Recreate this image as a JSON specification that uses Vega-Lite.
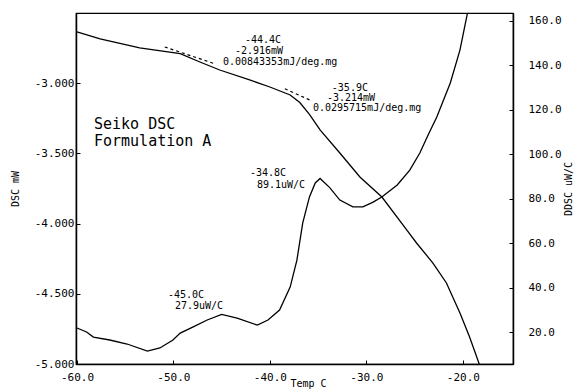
{
  "$schema": "https://vega.github.io/schema/vega-lite/v6.json",
  "width": 437,
  "height": 351,
  "autosize": {"type": "none"},
  "padding": {"left": 76, "top": 13, "right": 63, "bottom": 25},
  "background": "white",
  "config": {
    "locale": {"number": {"decimal": ".", "thousands": ",", "grouping": [3], "currency": ["$", ""], "minus": "-"}},
    "view": {"stroke": "black", "strokeWidth": 1.2},
    "font": "DejaVu Sans Mono",
    "axis": {
      "labelFont": "DejaVu Sans Mono",
      "labelFontSize": 11,
      "labelColor": "black",
      "titleFont": "DejaVu Sans Mono",
      "titleFontSize": 10,
      "titleFontWeight": "normal",
      "titleColor": "black",
      "domainColor": "black",
      "domainWidth": 1.5,
      "tickColor": "black",
      "tickSize": -4,
      "grid": false,
      "labelFlush": false,
      "labelOverlap": false
    }
  },
  "datasets": {
    "dsc": [
      {"t": -60.0, "mw": -2.635},
      {"t": -57.6, "mw": -2.685},
      {"t": -53.5, "mw": -2.749},
      {"t": -49.3, "mw": -2.790},
      {"t": -47.25, "mw": -2.849},
      {"t": -45.2, "mw": -2.906},
      {"t": -42.1, "mw": -2.977},
      {"t": -40.0, "mw": -3.027},
      {"t": -37.9, "mw": -3.084},
      {"t": -36.9, "mw": -3.138},
      {"t": -35.9, "mw": -3.222},
      {"t": -34.8, "mw": -3.333},
      {"t": -32.75, "mw": -3.497},
      {"t": -30.67, "mw": -3.668},
      {"t": -28.39, "mw": -3.811},
      {"t": -25.8, "mw": -4.046},
      {"t": -24.8, "mw": -4.138},
      {"t": -23.1, "mw": -4.281},
      {"t": -21.7, "mw": -4.423},
      {"t": -20.3, "mw": -4.637},
      {"t": -19.3, "mw": -4.808},
      {"t": -18.3, "mw": -5.0}
    ],
    "ddsc": [
      {"t": -60.0, "v": 21.8},
      {"t": -59.0, "v": 20.0},
      {"t": -58.3, "v": 17.7},
      {"t": -56.6, "v": 16.4},
      {"t": -54.8, "v": 14.6},
      {"t": -52.7, "v": 11.4},
      {"t": -51.4, "v": 12.8},
      {"t": -50.05, "v": 16.4},
      {"t": -49.3, "v": 19.5},
      {"t": -48.0, "v": 22.2},
      {"t": -46.5, "v": 25.4},
      {"t": -45.0, "v": 27.9},
      {"t": -43.4, "v": 26.3},
      {"t": -41.3, "v": 23.1},
      {"t": -40.2, "v": 25.4},
      {"t": -39.0, "v": 29.9},
      {"t": -37.9, "v": 40.2},
      {"t": -37.2, "v": 52.4},
      {"t": -36.6, "v": 69.0},
      {"t": -35.9, "v": 80.8},
      {"t": -35.3, "v": 87.1},
      {"t": -34.8, "v": 89.1},
      {"t": -33.8, "v": 85.0},
      {"t": -32.75, "v": 79.4},
      {"t": -31.4, "v": 76.3},
      {"t": -30.36, "v": 76.3},
      {"t": -29.3, "v": 78.5},
      {"t": -28.4, "v": 80.8},
      {"t": -26.8, "v": 86.2},
      {"t": -25.5, "v": 92.9},
      {"t": -24.46, "v": 100.6},
      {"t": -23.6, "v": 108.7},
      {"t": -22.7, "v": 116.8},
      {"t": -21.3, "v": 132.1},
      {"t": -20.3, "v": 146.9},
      {"t": -19.5, "v": 164.0}
    ],
    "tangent": [
      {"seg": "a", "t": -50.9, "mw": -2.742},
      {"seg": "a", "t": -45.7, "mw": -2.862},
      {"seg": "b", "t": -38.45, "mw": -3.040},
      {"seg": "b", "t": -35.85, "mw": -3.120}
    ],
    "notes": [
      {"t": -42.59, "mw": -2.692, "label": "-44.4C"},
      {"t": -43.63, "mw": -2.771, "label": "-2.916mW"},
      {"t": -44.87, "mw": -2.849, "label": "0.00843353mJ/deg.mg"},
      {"t": -33.58, "mw": -3.034, "label": "-35.9C"},
      {"t": -34.09, "mw": -3.105, "label": "-3.214mW"},
      {"t": -35.54, "mw": -3.177, "label": "0.0295715mJ/deg.mg"},
      {"t": -42.07, "mw": -3.640, "label": "-34.8C"},
      {"t": -41.35, "mw": -3.725, "label": "89.1uW/C"},
      {"t": -50.57, "mw": -4.509, "label": "-45.0C"},
      {"t": -49.84, "mw": -4.587, "label": "27.9uW/C"}
    ],
    "heading": [
      {"t": -58.24, "mw": -3.291, "label": "Seiko DSC"},
      {"t": -58.24, "mw": -3.412, "label": "Formulation A"}
    ]
  },
  "layer": [
    {
      "data": {"name": "dsc"},
      "mark": {"type": "line", "color": "black", "strokeWidth": 1.3, "clip": true},
      "encoding": {
        "x": {
          "field": "t", "type": "quantitative",
          "scale": {"domain": [-60.1, -14.8], "nice": false, "zero": false},
          "axis": {"values": [-60, -50, -40, -30, -20], "format": ".1f", "title": "Temp C", "labelPadding": 11, "titlePadding": -4, "titleX": 232, "titleAlign": "center", "titleAnchor": "start"}
        },
        "y": {
          "field": "mw", "type": "quantitative",
          "scale": {"domain": [-5, -2.5], "nice": false, "zero": false},
          "axis": {"orient": "left", "values": [-5, -4.5, -4, -3.5, -3], "format": ".3f", "title": "DSC mW", "labelPadding": 6, "titlePadding": 14}
        }
      }
    },
    {
      "data": {"name": "ddsc"},
      "mark": {"type": "line", "color": "black", "strokeWidth": 1.3, "clip": true},
      "encoding": {
        "x": {"field": "t", "type": "quantitative"},
        "y": {
          "field": "v", "type": "quantitative",
          "scale": {"domain": [5.6, 163.6], "nice": false, "zero": false},
          "axis": {"orient": "right", "values": [20, 40, 60, 80, 100, 120, 140, 160], "format": ".1f", "title": "DDSC uW/C", "labelPadding": 19, "titlePadding": 2, "titleAngle": 270, "titleBaseline": "top"}
        }
      }
    },
    {
      "data": {"name": "tangent"},
      "mark": {"type": "line", "color": "black", "strokeWidth": 1.2, "strokeDash": [3, 3]},
      "encoding": {
        "x": {"field": "t", "type": "quantitative"},
        "y": {"field": "mw", "type": "quantitative", "scale": {"domain": [-5, -2.5], "nice": false, "zero": false}, "axis": null},
        "detail": {"field": "seg"}
      }
    },
    {
      "data": {"name": "notes"},
      "mark": {"type": "text", "align": "left", "baseline": "middle", "fontSize": 10, "font": "DejaVu Sans Mono", "color": "black"},
      "encoding": {
        "x": {"field": "t", "type": "quantitative"},
        "y": {"field": "mw", "type": "quantitative", "scale": {"domain": [-5, -2.5], "nice": false, "zero": false}, "axis": null},
        "text": {"field": "label"}
      }
    },
    {
      "data": {"name": "heading"},
      "mark": {"type": "text", "align": "left", "baseline": "middle", "fontSize": 15, "font": "DejaVu Sans Mono", "color": "black"},
      "encoding": {
        "x": {"field": "t", "type": "quantitative"},
        "y": {"field": "mw", "type": "quantitative", "scale": {"domain": [-5, -2.5], "nice": false, "zero": false}, "axis": null},
        "text": {"field": "label"}
      }
    }
  ],
  "resolve": {"scale": {"y": "independent"}}
}
